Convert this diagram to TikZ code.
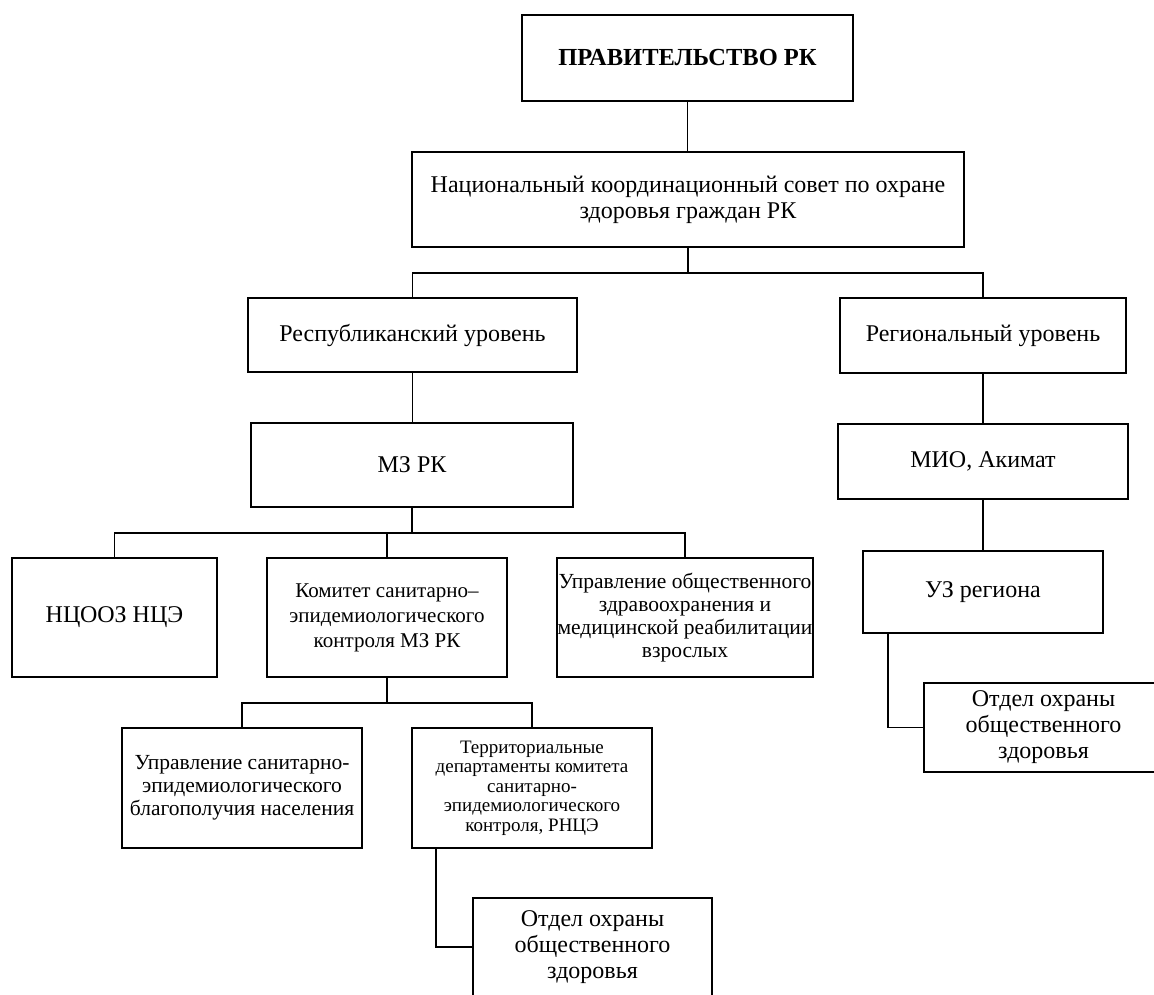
\documentclass[tikz,border=0pt]{standalone}
\usepackage{fontspec}
\setmainfont{Liberation Serif}
\newcommand\fsz[2]{\fontsize{#1}{#2}\selectfont}
\tikzset{
  box/.style={draw, line width=1.3pt, inner sep=0pt, outer sep=0pt, align=center, text=black},
  link/.style={line width=1.3pt},
  big/.style={font=\fsz{24}{26}},
  mid/.style={font=\fsz{21.5}{23}},
  small/.style={font=\fsz{19}{19.5}}
}
\begin{document}
\begin{tikzpicture}[x=1pt,y=-1pt]
\useasboundingbox (0,0) rectangle (1154,994);
\fill[white] (0,0) rectangle (1154,994);
\clip (0,0) rectangle (1154,994);

\node[box, minimum width=331pt, minimum height=86pt, font=\bfseries\fsz{24.5}{26}] (gov) at (687.5,58) {ПРАВИТЕЛЬСТВО РК};
\node[box, big, minimum width=552pt, minimum height=95pt] (ncs) at (688,199.5) {Национальный координационный совет по охране\\здоровья граждан РК};
\node[box, big, minimum width=329pt, minimum height=74pt] (resp) at (412.5,335) {Республиканский уровень};
\node[box, big, minimum width=286pt, minimum height=75pt] (reg) at (983,335.5) {Региональный уровень};
\node[box, big, minimum width=322pt, minimum height=84pt] (mz) at (412,465) {МЗ РК};
\node[box, big, minimum width=290pt, minimum height=75pt] (mio) at (983,461.5) {МИО, Акимат};
\node[box, big, minimum width=205pt, minimum height=119pt] (ncooz) at (114.5,617.5) {НЦООЗ НЦЭ};
\node[box, font=\fsz{21}{25}, minimum width=240pt, minimum height=119pt] (kom) at (387,617.5) {Комитет санитарно–\\эпидемиологического\\контроля МЗ РК};
\node[box, mid, minimum width=256pt, minimum height=119pt] (upr) at (685,617.5) {Управление общественного\\здравоохранения и\\медицинской реабилитации\\взрослых};
\node[box, big, minimum width=240pt, minimum height=82pt] (uz) at (983,592) {УЗ региона};
\node[box, big, minimum width=239pt, minimum height=89pt] (otdR) at (1043.5,727.5) {Отдел охраны\\общественного\\здоровья};
\node[box, mid, minimum width=240pt, minimum height=120pt] (uprsan) at (242,788) {Управление санитарно-\\эпидемиологического\\благополучия населения};
\node[box, small, minimum width=240pt, minimum height=120pt] (terr) at (532,788) {Территориальные\\департаменты комитета\\санитарно-\\эпидемиологического\\контроля, РНЦЭ};
\node[box, big, minimum width=239pt, minimum height=98pt] (otdB) at (592.5,947) {Отдел охраны\\общественного\\здоровья};

\coordinate (bus1) at (0,273);
\coordinate (bus2) at (0,533);
\coordinate (bus3) at (0,703);

\draw[link] (gov.south) -- (gov.south |- ncs.north);
\draw[link] (ncs.south) -- (ncs.south |- bus1);
\draw[link] (resp.north) |- (reg.north |- bus1) -- (reg.north);
\draw[link] (resp.south) -- (resp.south |- mz.north);
\draw[link] (reg.south) -- (reg.south |- mio.north);
\draw[link] (mio.south) -- (mio.south |- uz.north);
\draw[link] (mz.south) -- (mz.south |- bus2);
\draw[link] (ncooz.north) |- (upr.north |- bus2) -- (upr.north);
\draw[link] (kom.north) -- (kom.north |- bus2);
\draw[link] (kom.south) -- (kom.south |- bus3);
\draw[link] (uprsan.north) |- (terr.north |- bus3) -- (terr.north);
\draw[link] ([xshift=25pt]uz.south west) |- (otdR.west);
\draw[link] ([xshift=24pt]terr.south west) |- (otdB.west);
\end{tikzpicture}
\end{document}
